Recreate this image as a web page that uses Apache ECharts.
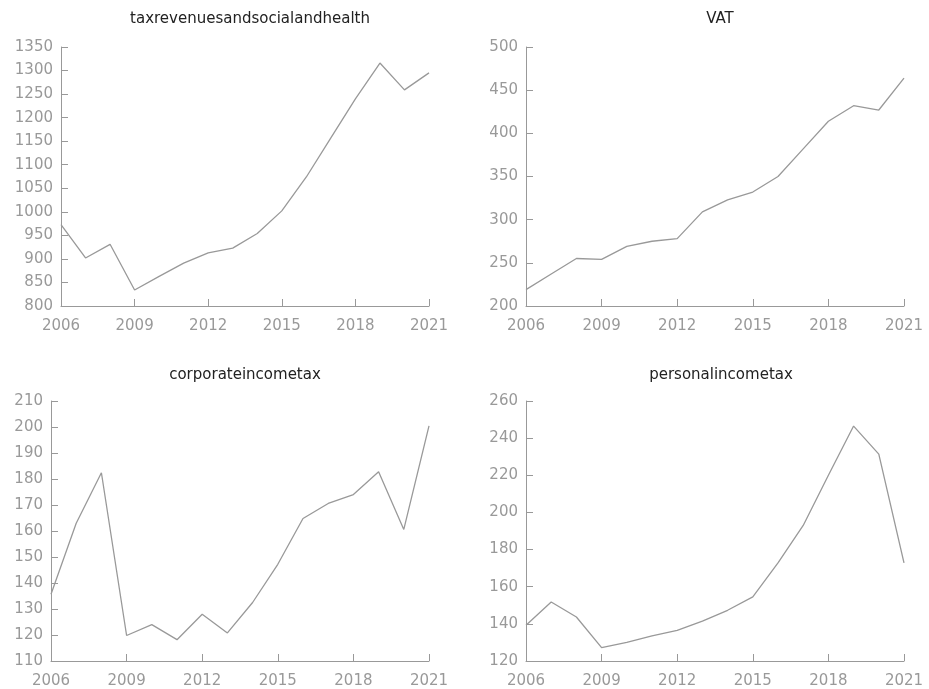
<!DOCTYPE html>
<html>
<head>
<meta charset="utf-8">
<script src="https://cdn.jsdelivr.net/npm/echarts@6/dist/echarts.min.js"></script>
<style>
html,body{margin:0;padding:0;background:#fff;}
#main{width:929px;height:689px;}
</style>
</head>
<body>
<div id="main"></div>
<script>
var years = [2006,2007,2008,2009,2010,2011,2012,2013,2014,2015,2016,2017,2018,2019,2020,2021];
var titles = ['taxrevenuesandsocialandhealth','VAT','corporateincometax','personalincometax'];
var taxrevenuesandsocialandhealth = [973,902,931,834,863,891,913,923,954,1002,1074,1157,1240,1316,1259,1295];
var vat = [219,237,255,254,269,275,278,309,323,332,350,382,414,432,427,464];
var corporateincometax = [135.7,163,182.4,119.8,124,118.2,128,120.8,132.5,147.2,164.8,170.6,174,182.8,160.6,200.4];
var personalincometax = [139.2,151.8,143.7,127.2,130,133.5,136.5,141.5,147.3,154.5,172.8,193,220,246.5,231.4,172.8];
var yMin = [800,200,110,120];
var yMax = [1350,500,210,260];
var yInterval = [50,50,10,20];
var allSeries = [taxrevenuesandsocialandhealth, vat, corporateincometax, personalincometax];

var grids = [
  {left:61, top:47, width:368, height:259},
  {left:526, top:47, width:378, height:259},
  {left:51, top:401, width:378, height:260},
  {left:526, top:401, width:378, height:260}
];
var titlePos = [[245,7],[715,7],[240,363],[716,363]];
var font = 'DejaVu Sans, Verdana, sans-serif';
var grey = '#999';

var option = {
  animation:false,
  backgroundColor:'#fff',
  title: titles.map(function(t,i){
    return {text:t, left:titlePos[i][0], top:titlePos[i][1], textAlign:'center',
      textStyle:{fontFamily:font, fontSize:15, fontWeight:'normal', color:'#222'}};
  }),
  grid: grids,
  xAxis: grids.map(function(g,i){
    return {type:'value', gridIndex:i, min:2006, max:2021, interval:3,
      axisLine:{lineStyle:{color:grey,width:1}},
      axisTick:{inside:true,length:7,lineStyle:{color:grey}},
      splitLine:{show:false},
      axisLabel:{color:grey, fontFamily:font, fontSize:15, margin:13,
        showMinLabel:true, showMaxLabel:true,
        formatter:function(v){return String(v);}}};
  }),
  yAxis: grids.map(function(g,i){
    return {type:'value', gridIndex:i, min:yMin[i], max:yMax[i], interval:yInterval[i],
      axisLine:{show:true,lineStyle:{color:grey,width:1}},
      axisTick:{show:true,inside:true,length:7,lineStyle:{color:grey}},
      splitLine:{show:false},
      axisLabel:{color:grey, fontFamily:font, fontSize:15, margin:8,
        formatter:function(v){return String(v);}}};
  }),
  series: allSeries.map(function(arr,i){
    return {type:'line', xAxisIndex:i, yAxisIndex:i, showSymbol:false, symbol:'none',
      lineStyle:{color:'#999999', width:1.3},
      data: years.map(function(y,j){return [y, arr[j]];})};
  })
};
echarts.init(document.getElementById('main')).setOption(option);
</script>
</body>
</html>
